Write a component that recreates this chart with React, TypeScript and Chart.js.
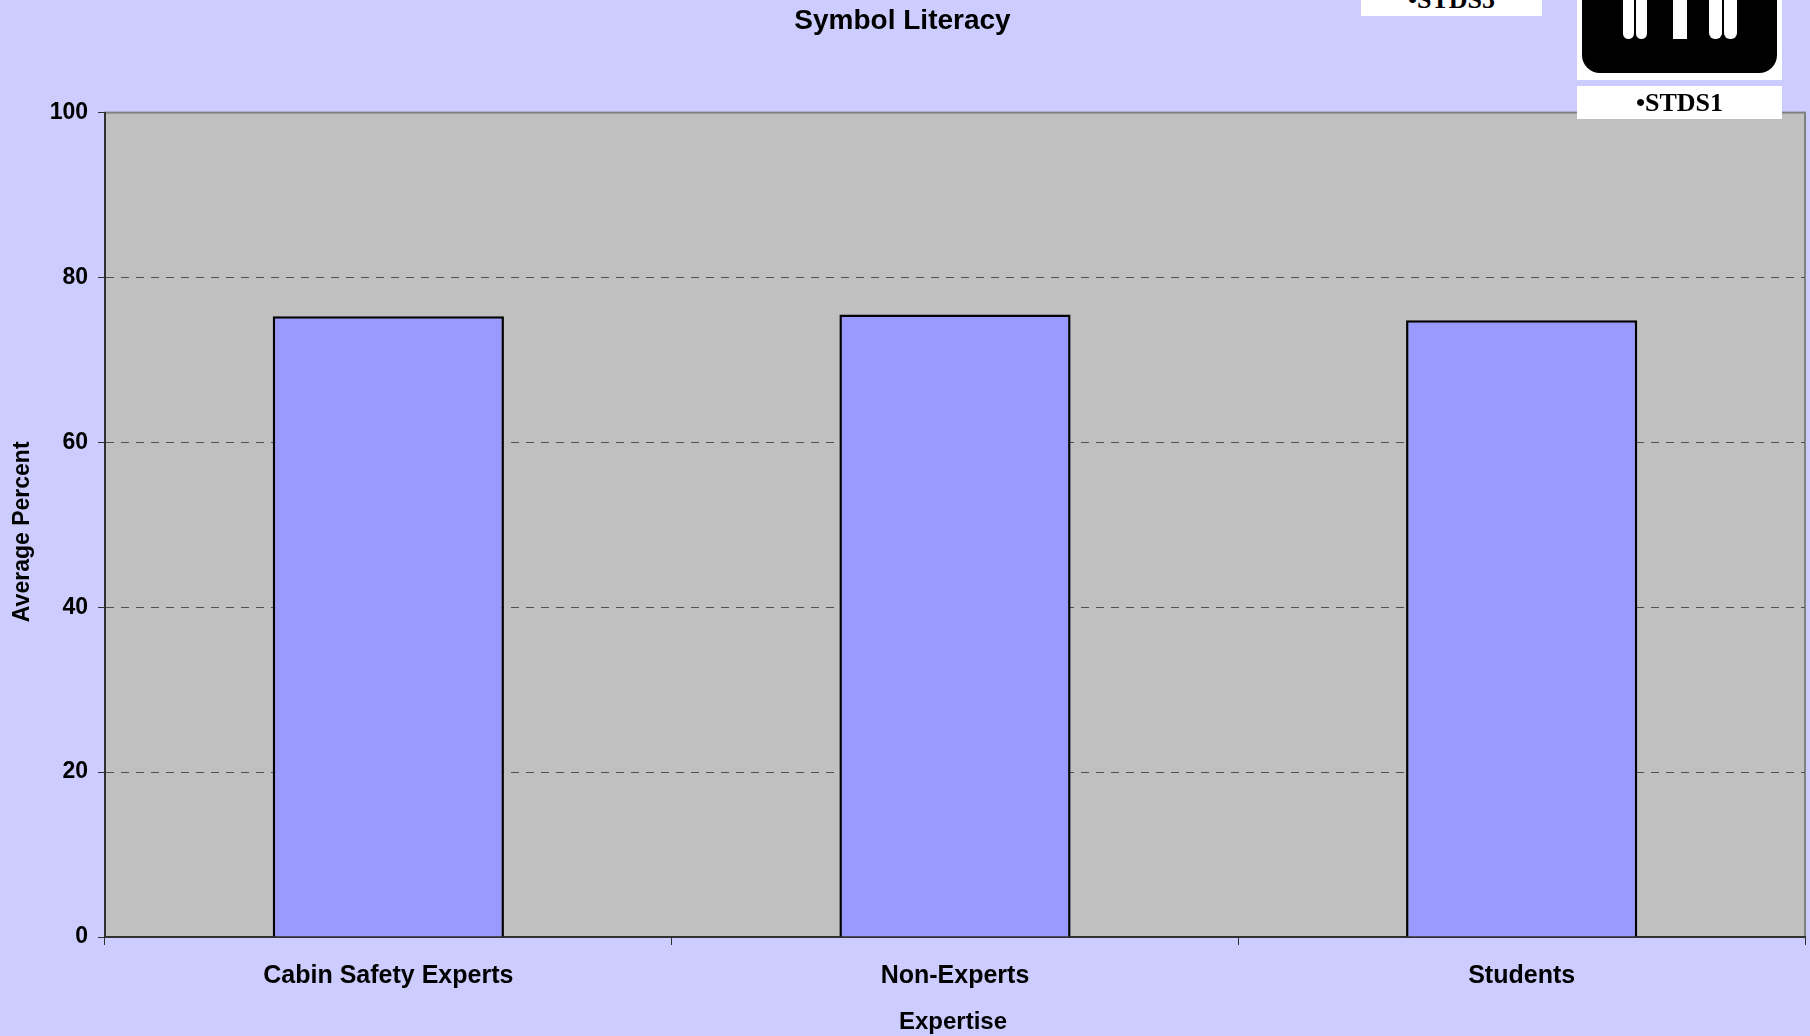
import React, { useEffect, useRef } from "react";
import { Chart, registerables } from "chart.js";

Chart.register(...registerables);

const categories = ["Cabin Safety Experts", "Non-Experts", "Students"];
const averagePercent = [75.3, 75.5, 74.8];
const yTicks = [0, 20, 40, 60, 80, 100];
const chartTitle = "Symbol Literacy";
const xTitle = "Expertise";
const yTitle = "Average Percent";

const FONT = "'Liberation Sans', Arial, sans-serif";

const plotBackground = {
  id: "plotBackground",
  beforeDraw(chart: any) {
    const { ctx, chartArea: a } = chart;
    ctx.save();
    ctx.fillStyle = "#C0C0C0";
    ctx.fillRect(a.left, a.top, a.right - a.left, a.bottom - a.top);
    ctx.strokeStyle = "#808080";
    ctx.lineWidth = 2;
    ctx.strokeRect(a.left, a.top, a.right - a.left, a.bottom - a.top);
    ctx.restore();
  },
};

// The reference's axis titles sit slightly off the centre of the plot.
const axisTitleOffset = {
  id: "axisTitleOffset",
  afterLayout(chart: any) {
    const shift = (scale: any, key: string, by: number) => {
      if (scale.__titleShifted) return;
      scale.__titleShifted = true;
      const draw = scale.drawTitle;
      scale.drawTitle = function () {
        this[key] += by;
        draw.call(this);
        this[key] -= by;
      };
    };
    shift(chart.scales.y, "bottom", 14);
    shift(chart.scales.x, "right", -4);
  },
};

export default function App() {
  const ref = useRef<HTMLCanvasElement>(null);
  useEffect(() => {
    document.body.style.margin = "0";
    document.body.style.overflow = "hidden";
    const chart = new Chart(ref.current!, {
      type: "bar",
      data: {
        labels: categories,
        datasets: [
          {
            data: averagePercent,
            backgroundColor: "#9999FF",
            borderColor: "#000000",
            borderWidth: 2.5,
            barPercentage: 0.408,
            categoryPercentage: 1,
          },
        ],
      },
      plugins: [plotBackground, axisTitleOffset],
      options: {
        animation: false,
        responsive: false,
        layout: { padding: { right: 5, top: 0, left: 0, bottom: 0 } },
        plugins: {
          legend: { display: false },
          tooltip: { enabled: false },
          title: {
            display: true,
            text: chartTitle,
            color: "#000000",
            font: { family: FONT, size: 28, weight: "bold" },
            padding: { top: 4, bottom: 75 },
          },
        },
        scales: {
          x: {
            border: { color: "#303030", width: 2 },
            grid: {
              offset: true,
              drawOnChartArea: false,
              drawTicks: true,
              tickLength: 8,
              tickColor: "#303030",
              tickWidth: 1,
            },
            ticks: {
              color: "#000000",
              font: { family: FONT, size: 25, weight: "bold" },
              padding: 16.5,
              maxRotation: 0,
            },
            title: {
              display: true,
              text: xTitle,
              color: "#000000",
              font: { family: FONT, size: 24, weight: "bold" },
              padding: { top: 10, bottom: -1 },
            },
            afterFit(scale: any) {
              scale.height = 99;
            },
          },
          y: {
            min: 0,
            max: 100,
            afterBuildTicks(scale: any) {
              scale.ticks = yTicks.map((value) => ({ value }));
            },
            border: { color: "#303030", width: 2, dash: [8, 7] },
            grid: {
              color: (c: any) =>
                c.tick && (c.tick.value === 0 || c.tick.value === 100) ? "rgba(0,0,0,0)" : "#505050",
              lineWidth: 1,
              tickColor: "#303030",
              tickLength: 7,
              tickBorderDash: [],
            },
            ticks: {
              color: "#000000",
              font: { family: FONT, size: 23, weight: "bold" },
              padding: 10,
            },
            title: {
              display: true,
              text: yTitle,
              color: "#000000",
              font: { family: FONT, size: 23, weight: "bold" },
              padding: { top: 9, bottom: 0 },
            },
            afterFit(scale: any) {
              scale.width = 105;
            },
          },
        },
      },
    });
    return () => chart.destroy();
  }, []);

  const box: React.CSSProperties = {
    position: "absolute",
    background: "#FFFFFF",
    overflow: "hidden",
    fontFamily: "'Liberation Serif', 'Times New Roman', serif",
    fontWeight: "bold",
    fontSize: 26,
    color: "#000",
    textAlign: "center",
  };

  const prongs = [
    { l: 46, w: 11, r: 6 },
    { l: 59, w: 11, r: 6 },
    { l: 96, w: 14, r: 0 },
    { l: 132, w: 13, r: 6 },
    { l: 147, w: 13, r: 6 },
  ];

  return (
    <div style={{ position: "relative", width: 1810, height: 1036, background: "#CCCCFF", overflow: "hidden" }}>
      <canvas ref={ref} width={1810} height={1036} style={{ display: "block", position: "absolute", left: 0, top: 0 }} />
      <div style={{ ...box, left: 1361, top: 0, width: 181, height: 16, lineHeight: "0px" }}>•STDS5</div>
      <div style={{ ...box, left: 1577, top: 0, width: 205, height: 80 }}>
        <div style={{ position: "absolute", left: 5, top: -40, width: 195, height: 113, background: "#000", borderRadius: 18 }} />
        {prongs.map((p) => (
          <div
            key={p.l}
            style={{ position: "absolute", left: p.l, top: 0, width: p.w, height: 39, background: "#fff", borderRadius: `0 0 ${p.r}px ${p.r}px` }}
          />
        ))}
      </div>
      <div style={{ ...box, left: 1577, top: 86, width: 205, height: 33, lineHeight: "33px" }}>•STDS1</div>
    </div>
  );
}
